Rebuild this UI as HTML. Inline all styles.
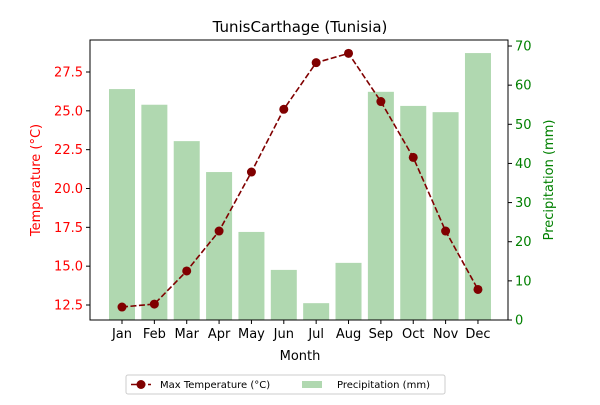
<!DOCTYPE html>
<html><head><meta charset="utf-8"><style>
body{margin:0;background:#fff;font-family:"Liberation Sans","DejaVu Sans",sans-serif;}
</style></head><body>
<svg id="chart" width="600" height="400" xmlns="http://www.w3.org/2000/svg" font-family="DejaVu Sans, Liberation Sans, sans-serif">
<text x="300" y="32" text-anchor="middle" font-size="15">TunisCarthage (Tunisia)</text>
<g id="bars"></g><g id="line"></g><g id="axes"></g>
</svg>
<script>
const months=["Jan","Feb","Mar","Apr","May","Jun","Jul","Aug","Sep","Oct","Nov","Dec"];
const maxTemp=[12.37,12.56,14.69,17.26,21.06,25.1,28.1,28.7,25.6,22.0,17.26,13.5];
const precip=[59,55,45.7,37.8,22.5,12.8,4.3,14.6,58.3,54.7,53.1,68.2];
const tempTicks=[12.5,15.0,17.5,20.0,22.5,25.0,27.5];
const precipTicks=[0,10,20,30,40,50,60,70];
const NS="http://www.w3.org/2000/svg";
const L=90,R=508,T=40,B=320;
const x=i=>122+i*32.36;
const yT=v=>305-(v-12.5)*(233/15);
const yP=v=>320-v*3.914;
function mk(tag,attrs,parent){const e=document.createElementNS(NS,tag);for(const k in attrs)e.setAttribute(k,attrs[k]);document.getElementById(parent).appendChild(e);return e;}
precip.forEach((v,i)=>{const r=mk('rect',{x:x(i)-13,y:yP(v),width:26,height:B-yP(v),fill:'#b0d8b0'},'bars');

});
const pl=mk('polyline',{points:maxTemp.map((v,i)=>x(i)+','+yT(v)).join(' '),fill:'none',stroke:'#800000','stroke-width':1.6,'stroke-dasharray':'6,2.5'},'line');


maxTemp.forEach((v,i)=>{const c=mk('circle',{cx:x(i),cy:yT(v),r:4.5,fill:'#800000'},'line');

});
const fr=mk('rect',{x:L,y:T,width:R-L,height:B-T,fill:'none',stroke:'#000','stroke-width':1},'axes');


months.forEach((m,i)=>{mk('line',{x1:x(i),x2:x(i),y1:B,y2:B+4,stroke:'#000'},'axes');
const t=mk('text',{x:x(i),y:B+18,'text-anchor':'middle','font-size':13},'axes');t.textContent=m;

});
tempTicks.forEach(v=>{mk('line',{x1:L-4,x2:L,y1:yT(v),y2:yT(v),stroke:'#000'},'axes');
const t=mk('text',{x:L-7,y:yT(v)+4.5,'text-anchor':'end','font-size':13,fill:'red'},'axes');t.textContent=v.toFixed(1);

});
precipTicks.forEach(v=>{mk('line',{x1:R,x2:R+4,y1:yP(v),y2:yP(v),stroke:'#000'},'axes');
const t=mk('text',{x:R+7,y:yP(v)+4.5,'text-anchor':'start','font-size':13,fill:'green'},'axes');t.textContent=v;

});
</script>
<svg style="position:absolute;left:0;top:0" width="600" height="400" xmlns="http://www.w3.org/2000/svg" font-family="DejaVu Sans, Liberation Sans, sans-serif">
<text x="300" y="360" text-anchor="middle" font-size="13">Month</text>
<text transform="translate(40,180) rotate(-90)" text-anchor="middle" font-size="13" fill="red">Temperature (°C)</text>
<text transform="translate(553,180) rotate(-90)" text-anchor="middle" font-size="13" fill="green">Precipitation (mm)</text>
<g>
<rect x="126" y="375" width="319" height="19" rx="2" fill="#fff" stroke="#ccc"/>
<line x1="131" y1="384.5" x2="151" y2="384.5" stroke="#800000" stroke-width="1.6" stroke-dasharray="6,2.5"/>
<circle cx="141" cy="384.5" r="4.5" fill="#800000"/>
<text x="160" y="388" font-size="10">Max Temperature (°C)</text>
<rect x="302" y="381" width="20" height="7" fill="#b0d8b0"/>
<text x="337" y="388" font-size="10">Precipitation (mm)</text>
</g>
</svg>
</body></html>
